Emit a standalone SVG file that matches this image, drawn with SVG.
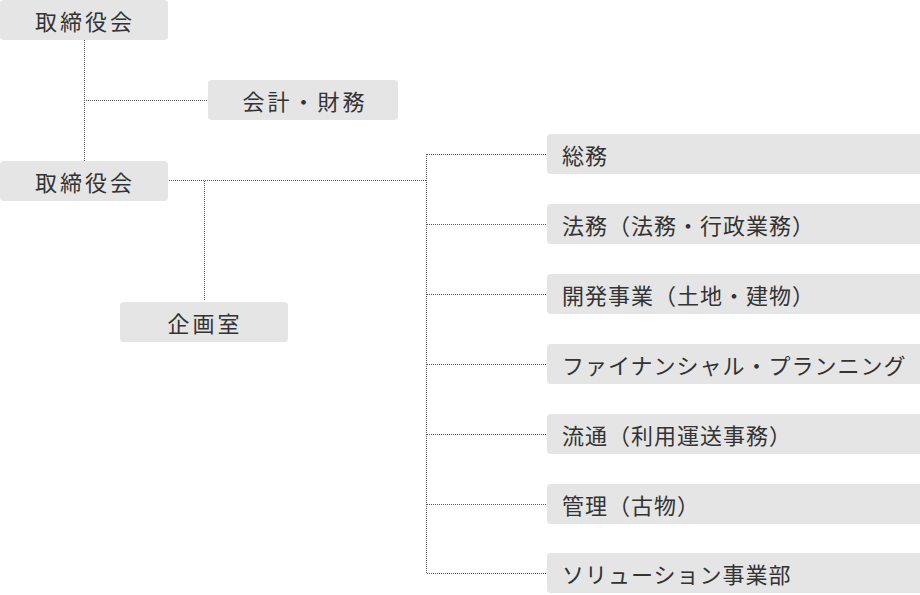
<svg xmlns="http://www.w3.org/2000/svg" width="920" height="595" viewBox="0 0 920 595">
<style>
.box{fill:#e5e5e5}
.t{font-family:"Noto Sans CJK JP","Noto Sans CJK SC",sans-serif;font-size:22px;fill:#333;dominant-baseline:central}
.c{text-anchor:middle;letter-spacing:3px}
.r{letter-spacing:1px}
.ln{stroke:#555;stroke-width:1;stroke-dasharray:1 1;fill:none}
</style>
<rect width="920" height="595" fill="#fff"/>
<g id="connectors">
<path class="ln" d="M84.5 40V161M86 100.5H207M169 180.5H426.5M204.5 181V301M426.5 154V573"/>
<path class="ln" d="M427 154.5H546M427 224.5H546M427 294.5H546M427 364.5H546M427 434.5H546M427 504.5H546M427 573.5H546"/>
</g>
<g id="n1"><rect class="box" x="0" y="0" width="168" height="40" rx="4"/><text class="t c" x="85" y="20">取締役会</text></g>
<g id="n2"><rect class="box" x="208" y="80" width="190" height="40" rx="4"/><text class="t c" x="305" y="100">会計・財務</text></g>
<g id="n3"><rect class="box" x="0" y="161" width="168" height="40" rx="4"/><text class="t c" x="85" y="181">取締役会</text></g>
<g id="n4"><rect class="box" x="120" y="302" width="168" height="40" rx="4"/><text class="t c" x="205" y="322">企画室</text></g>
<g id="d1"><rect class="box" x="547" y="134" width="380" height="40" rx="4"/><text class="t r" x="562" y="154">総務</text></g>
<g id="d2"><rect class="box" x="547" y="204" width="380" height="40" rx="4"/><text class="t r" x="562" y="224">法務（法務・行政業務）</text></g>
<g id="d3"><rect class="box" x="547" y="274" width="380" height="40" rx="4"/><text class="t r" x="562" y="294">開発事業（土地・建物）</text></g>
<g id="d4"><rect class="box" x="547" y="344" width="380" height="40" rx="4"/><text class="t r" x="562" y="364">ファイナンシャル・プランニング</text></g>
<g id="d5"><rect class="box" x="547" y="414" width="380" height="40" rx="4"/><text class="t r" x="562" y="434">流通（利用運送事務）</text></g>
<g id="d6"><rect class="box" x="547" y="484" width="380" height="40" rx="4"/><text class="t r" x="562" y="504">管理（古物）</text></g>
<g id="d7"><rect class="box" x="547" y="553" width="380" height="40" rx="4"/><text class="t r" x="562" y="573">ソリューション事業部</text></g>
</svg>
